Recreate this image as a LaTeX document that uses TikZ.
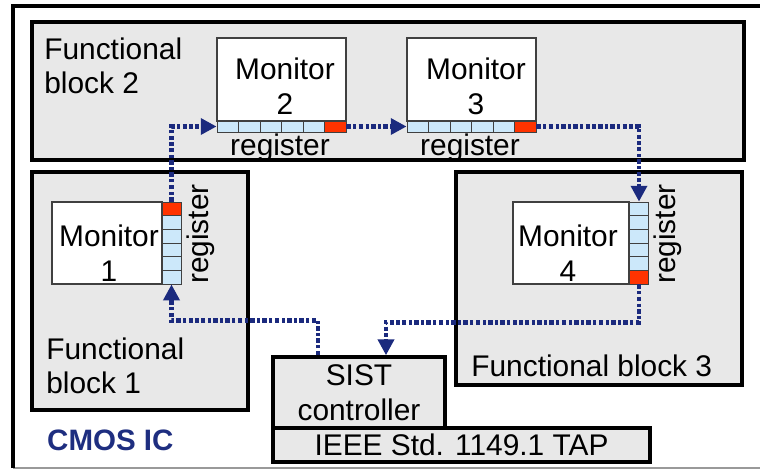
\documentclass[tikz,border=0pt]{standalone}
\usepackage{fontspec}
\setmainfont{Liberation Sans}
\usepackage{tikz}
\usetikzlibrary{arrows.meta,positioning}
\definecolor{blockgrey}{RGB}{232,232,232}
\definecolor{cellblue}{RGB}{204,232,250}
\definecolor{regred}{RGB}{255,51,0}
\definecolor{linknavy}{RGB}{27,42,126}
\definecolor{icnavy}{RGB}{30,46,128}

\begin{document}
\begin{tikzpicture}[x=0.02cm,y=-0.02cm,
    every node/.style={font=\fontsize{17}{19.8}\selectfont},
    fblock/.style={draw=black,line width=2.2pt,fill=blockgrey},
    monbox/.style={draw=black!75,line width=0.6pt,fill=white,inner sep=0pt},
    montext/.style={align=center,inner sep=0pt},
    regcell/.style={draw=black!75,line width=0.5pt,inner sep=0pt},
    hcell/.style={regcell,minimum width=0.43cm,minimum height=0.22cm},
    vcell/.style={regcell,minimum width=0.38cm,minimum height=0.273cm},
    link/.style={draw=linknavy,line width=2.6pt,
      dash pattern=on 2.6pt off 1.3pt on 1.8pt off 1.3pt,
      -{Triangle[length=9pt,width=9pt,fill=linknavy]}}]
  \useasboundingbox (0,0) rectangle (760,471);
  \clip (0,0) rectangle (760,471);

  % chip frame
  \draw[black!40,line width=0.6pt] (13,468) -- (770,468);
  \draw[line width=2.2pt] (13,468) -- (13,6) -- (770,6);
  \node[font=\fontsize{16.8}{18}\selectfont\bfseries,text=icnavy,anchor=west] (chip) at (41,440) {CMOS IC};

  % functional blocks
  \draw[fblock] (32,22) rectangle (744,160);
  \draw[fblock] (32,172) rectangle (248,410);
  \draw[fblock] (456,172) rectangle (742,385);
  \node[montext,align=left,anchor=north west] (fb2) at (44,37) {Functional\\block 2};
  \node[montext,align=left,anchor=north west] (fb1) at (46,337) {Functional\\block 1};
  \node[montext,anchor=west] (fb3) at (471,366) {Functional block 3};

  % monitors
  \node[monbox,minimum width=2.58cm,minimum height=1.66cm] (mon2) at (281.5,79.5) {};
  \node[montext] (mon2t) at (285,86) {Monitor\\2};
  \node[monbox,minimum width=2.58cm,minimum height=1.66cm] (mon3) at (471.5,79.5) {};
  \node[montext] (mon3t) at (476,86) {Monitor\\3};
  \node[monbox,minimum width=2.2cm,minimum height=1.64cm] (mon1) at (107,243) {};
  \node[montext] (mon1t) at (109,253) {Monitor\\1};
  \node[monbox,minimum width=2.32cm,minimum height=1.64cm] (mon4) at (571,243) {};
  \node[montext] (mon4t) at (568,253) {Monitor\\4};

  % registers
  \foreach \i/\col in {1/cellblue,2/cellblue,3/cellblue,4/cellblue,5/cellblue,6/regred} {
    \node[hcell,fill=\col] (reg2c\i) at (206.25+21.5*\i,126.5) {};
    \node[hcell,fill=\col] (reg3c\i) at (396.25+21.5*\i,126.5) {};
  }
  \foreach \i/\col in {1/regred,2/cellblue,3/cellblue,4/cellblue,5/cellblue,6/cellblue}
    \node[vcell,fill=\col] (reg1c\i) at (171.5,195.17+13.67*\i) {};
  \foreach \i/\col in {1/cellblue,2/cellblue,3/cellblue,4/cellblue,5/cellblue,6/regred}
    \node[vcell,fill=\col] (reg4c\i) at (639,195.17+13.67*\i) {};
  \node[montext] (reg2l) at (280,148) {register};
  \node[montext] (reg3l) at (470,148) {register};
  \node[montext,rotate=90] (reg1l) at (201,234) {register};
  \node[montext,rotate=90] (reg4l) at (668,234) {register};

  % controller and TAP
  \node[fblock,line width=2pt,minimum width=7.54cm,minimum height=0.68cm,inner sep=0pt] (tap) at (461.5,445) {IEEE Std. 1149.1 TAP};
  \node[fblock,line width=2pt,minimum width=3.44cm,minimum height=1.42cm,align=center,inner sep=0pt] (sist) at (359,392.5) {SIST\\controller};
  \coordinate (sistin) at ([xshift=0.54cm]sist.north);
  \coordinate (sistout) at ([xshift=-0.82cm]sist.north);

  % scan path
  \draw[link] (reg1c1.north) |- (reg2c1.west);
  \draw[link] (reg2c6.east) -- (reg3c1.west);
  \draw[link] (reg3c6.east) -| (reg4c1.north);
  \draw[link] (reg4c6.south) -- ++(0,38) -| (sistin);
  \draw[link] (sistout) -- ++(0,-35) -| (reg1c6.south);
\end{tikzpicture}
\end{document}
